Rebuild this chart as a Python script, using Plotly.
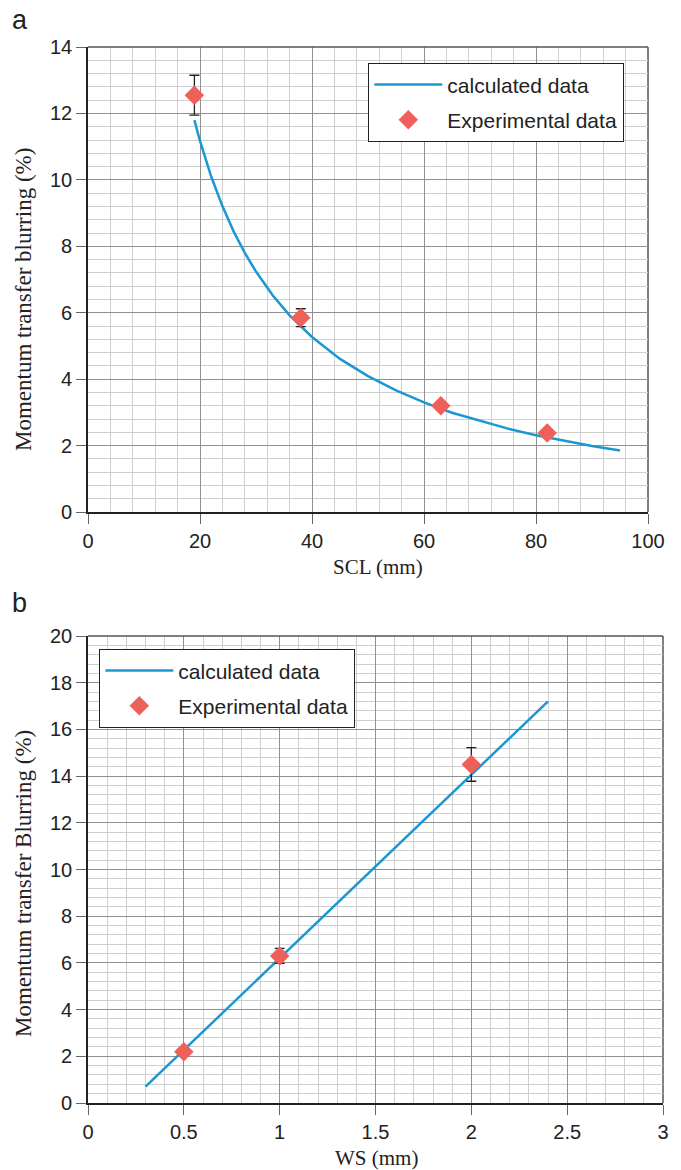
import plotly.graph_objects as go

# ---- Panel a data ----
scl_calc = [19, 20, 22, 24, 26, 28, 30, 33, 36, 40, 45, 50, 55, 60, 65, 70, 75, 80, 85, 90, 95]
blur_calc = [11.80, 11.17, 10.10, 9.21, 8.45, 7.80, 7.24, 6.52, 5.92, 5.27, 4.61, 4.09, 3.66, 3.30, 2.99, 2.74, 2.51, 2.31, 2.14, 1.99, 1.85]
scl_exp = [19, 38, 63, 82]
blur_exp = [12.55, 5.85, 3.2, 2.38]
blur_err = [0.6, 0.27, 0.12, 0.1]
scl_err = [0.6, 0.6, 0.6, 0.6]

# ---- Panel b data ----
ws_calc = [0.3, 1.0, 2.0, 2.4]
blurb_calc = [0.7, 6.2, 14.05, 17.2]
ws_exp = [0.5, 1.0, 2.0]
blurb_exp = [2.2, 6.3, 14.5]
blurb_err = [0.12, 0.32, 0.72]

LINE_C = "#1b98d3"
MARK_C = "#f0605a"
MAJ_G = "#8f8f8f"
MIN_G = "#cfcfcf"

fig = go.Figure()

fig.add_trace(go.Scatter(x=scl_calc, y=blur_calc, mode="lines", name="calculated data",
                         line=dict(color=LINE_C, width=2.5), xaxis="x", yaxis="y",
                         legend="legend", legendgroup="a1"))
fig.add_trace(go.Scatter(x=scl_exp, y=blur_exp, mode="markers", name="Experimental data",
                         marker=dict(symbol="diamond", size=15, color=MARK_C),
                         error_y=dict(type="data", array=blur_err, color="#222", thickness=1.3, width=5),
                         error_x=dict(type="data", array=scl_err, color="#222", thickness=1.3, width=5),
                         xaxis="x", yaxis="y", legend="legend", legendgroup="a2"))

fig.add_trace(go.Scatter(x=ws_calc, y=blurb_calc, mode="lines", name="calculated data",
                         line=dict(color=LINE_C, width=2.5), xaxis="x2", yaxis="y2",
                         legend="legend2", legendgroup="b1"))
fig.add_trace(go.Scatter(x=ws_exp, y=blurb_exp, mode="markers", name="Experimental data",
                         marker=dict(symbol="diamond", size=15, color=MARK_C),
                         error_y=dict(type="data", array=blurb_err, color="#222", thickness=1.3, width=5),
                         xaxis="x2", yaxis="y2", legend="legend2", legendgroup="b2"))

W, H = 681, 1170
def fx(p): return p / W
def fy(p): return (H - p) / H

tickfont = dict(family="Liberation Sans, Arial", size=20, color="#222")
titlefont = dict(family="Liberation Serif, Times New Roman", size=21, color="#222")
ytitlefont = dict(family="Liberation Serif, Times New Roman", size=23, color="#222")
legfont = dict(family="Liberation Sans, Arial", size=21, color="#222")

def axis_common():
    return dict(showgrid=True, gridcolor=MAJ_G, gridwidth=1.3, zeroline=False,
                showline=True, linecolor="#222", linewidth=1.6, automargin=False,
                ticks="outside", ticklen=10, tickcolor="#666", tickwidth=1.4,
                tickfont=tickfont)

fig.update_layout(
    width=W, height=H, margin=dict(l=0, r=0, t=0, b=0),
    paper_bgcolor="white", plot_bgcolor="white",
    xaxis=dict(**axis_common(), domain=[fx(88), fx(648)], anchor="y", range=[0, 100], dtick=20,
               minor=dict(dtick=4, showgrid=True, gridcolor=MIN_G, gridwidth=1.3)),
    yaxis=dict(**axis_common(), domain=[fy(512), fy(47)], anchor="x", range=[0, 14], dtick=2,
               minor=dict(dtick=0.4, showgrid=True, gridcolor=MIN_G, gridwidth=1.3)),
    xaxis2=dict(**axis_common(), domain=[fx(88), fx(663)], anchor="y2", range=[0, 3], dtick=0.5,
                minor=dict(dtick=0.1, showgrid=True, gridcolor=MIN_G, gridwidth=1.3)),
    yaxis2=dict(**axis_common(), domain=[fy(1103), fy(636)], anchor="x2", range=[0, 20], dtick=2,
                minor=dict(dtick=0.4, showgrid=True, gridcolor=MIN_G, gridwidth=1.3)),
    legend=dict(x=fx(368), y=fy(63), xanchor="left", yanchor="top",
                bgcolor="white", bordercolor="#222", borderwidth=1.3,
                font=legfont, itemwidth=68, traceorder="grouped", tracegroupgap=5),
    legend2=dict(x=fx(99), y=fy(649), xanchor="left", yanchor="top",
                 bgcolor="white", bordercolor="#222", borderwidth=1.3,
                 font=legfont, itemwidth=68, traceorder="grouped", tracegroupgap=5),
    showlegend=True,
)

# darker frame on top / right edges
for xr, yr in (("x", "y"), ("x2", "y2")):
    fig.add_shape(type="line", xref=f"{xr} domain", yref=f"{yr} domain",
                  x0=0, x1=1, y0=1, y1=1, line=dict(color="#555", width=1.5), layer="above")
    fig.add_shape(type="line", xref=f"{xr} domain", yref=f"{yr} domain",
                  x0=1, x1=1, y0=0, y1=1, line=dict(color="#555", width=1.5), layer="below")

def ann(text, x, y, font, angle=0, xanchor="center", yanchor="middle"):
    fig.add_annotation(text=text, x=fx(x), y=fy(y), xref="paper", yref="paper",
                       xanchor=xanchor, yanchor=yanchor, showarrow=False,
                       textangle=angle, font=font)

panelfont = dict(family="Liberation Sans, Arial", size=27, color="#222")
ann("a", 10, 3, panelfont, xanchor="left", yanchor="top")
ann("b", 10, 586, panelfont, xanchor="left", yanchor="top")
ann("SCL (mm)", 378, 567, titlefont)
ann("WS (mm)", 376, 1158, titlefont)
ann("Momentum transfer blurring (%)", 23, 300, ytitlefont, angle=-90)
ann("Momentum transfer Blurring (%)", 23, 884, ytitlefont, angle=-90)

fig.write_html("out.html")
